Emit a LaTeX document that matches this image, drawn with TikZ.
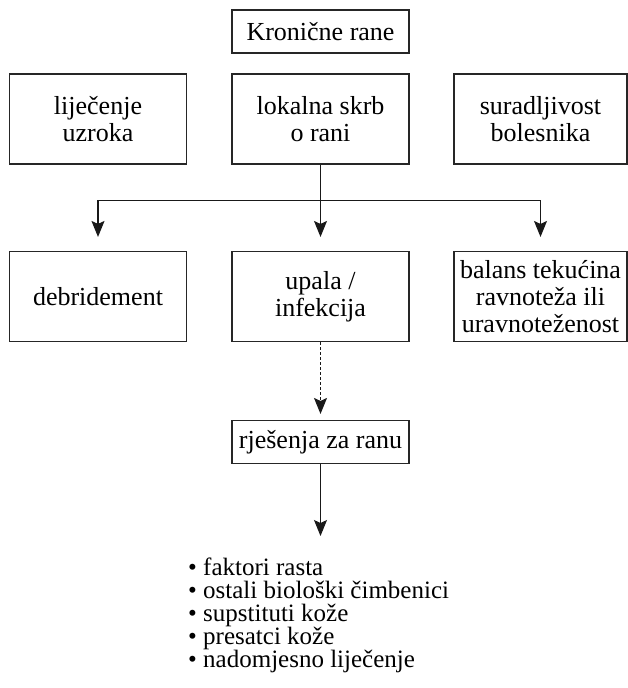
\documentclass[tikz,border=0pt]{standalone}
\usepackage{fontspec}
\setmainfont{Liberation Serif}
\usetikzlibrary{arrows.meta}

\tikzset{
  box/.style={draw=black!85, line width=1.1pt, align=center, inner sep=0pt,
    minimum width=177pt, minimum height=90pt, text=black,
    font=\fontsize{26}{27}\selectfont},
  flat/.style={box, minimum height=43pt},
  conn/.style={draw=black!90, line width=1.1pt, -{Stealth[length=16pt,width=13pt,inset=3pt]}},
}

\begin{document}
\begin{tikzpicture}[x=1pt, y=-1pt]
  \useasboundingbox (0,0) rectangle (627,688);

  % vrh
  \node[flat] (kron) at (320.5,31.5) {Kronične rane};

  % drugi red
  \node[box] (uzrok) at (98,119) {liječenje\\uzroka};
  \node[box] (skrb) at (320.5,119) {lokalna skrb\\o rani};
  \node[box, minimum width=173pt] (surad) at (540.5,119) {suradljivost\\bolesnika};

  % treci red
  \node[box] (debr) at (98,296.5) {debridement};
  \node[box] (upala) at (320.5,296.5) {upala /\\infekcija};
  \node[box, minimum width=173pt] (balans) at (540.5,296.5) {balans tekućina\\ravnoteža ili\\uravnoteženost};

  % rjesenja
  \node[flat] (rjes) at (320.5,442) {rješenja za ranu};
  \node[anchor=north west, align=left, inner sep=0pt, text=black,
    font=\fontsize{25}{23}\selectfont] (lista) at (188,558)
    {• faktori rasta\\• ostali biološki čimbenici\\• supstituti kože\\• presatci kože\\• nadomjesno liječenje};

  % strelice
  \draw[draw=black!90, line width=1.1pt] (skrb.south) -- ++(0,36) coordinate (split);
  \draw[conn, shorten >=14pt] (skrb.south) -- (upala.north);
  \draw[conn, shorten >=14pt] (split) -| (debr.north);
  \draw[conn, shorten >=14pt] (split) -| (balans.north);
  \draw[conn, dash pattern=on 3pt off 2pt, shorten >=6pt] (upala.south) -- (rjes.north);
  \draw[conn, shorten >=22pt] (rjes.south) -- (rjes.south |- lista.north);
\end{tikzpicture}
\end{document}
